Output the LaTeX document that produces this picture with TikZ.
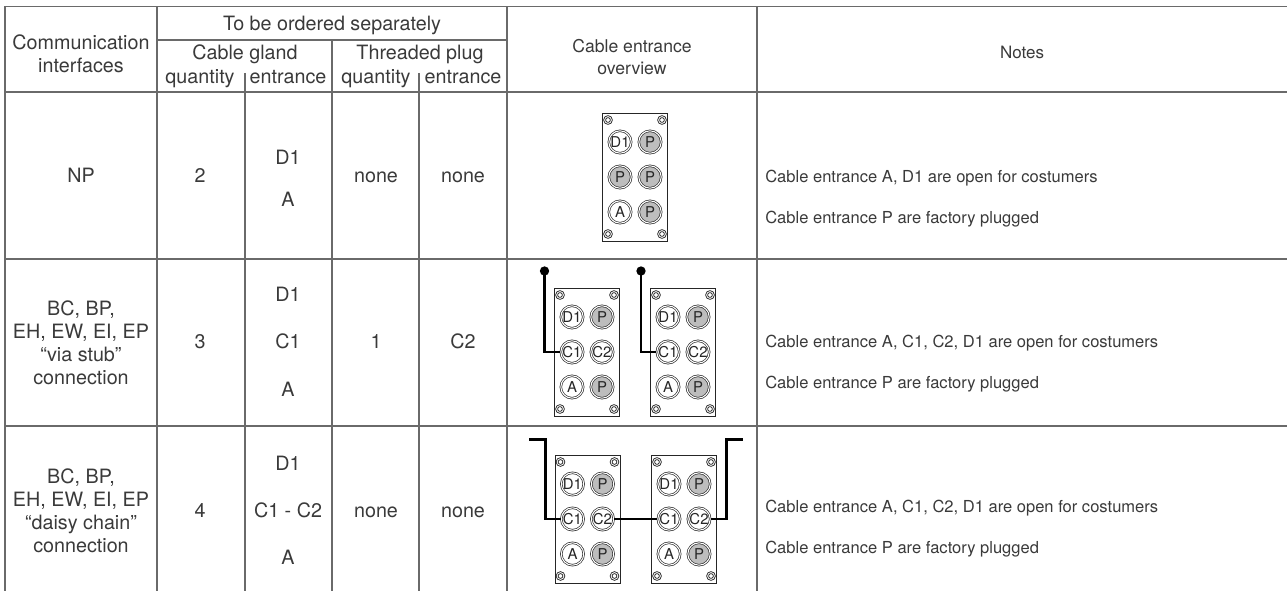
\documentclass[tikz,border=0pt]{standalone}
\usepackage{fontspec}
\setmainfont{TeX Gyre Heros}
\definecolor{txt}{HTML}{3A3A3A}
\definecolor{gridc}{HTML}{6A6A6A}
\definecolor{ink}{HTML}{262626}
\definecolor{plug}{HTML}{BDBDBD}
\newcommand\glandunit[7]{%
  \begin{scope}[shift={(#2,#3)}]
    \node[gbox] (#1) at (0,0) {};
    \foreach \sx/\sy in {-27/-57, 27/-57, -27/57, 27/57}{
      \draw[screw] (\sx,\sy) circle[radius=3.3pt];
      \draw[screw] (\sx,\sy) circle[radius=1.8pt];}
    \node[gland,glandopen] (#1a) at (-15,-35) {D1};
    \node[gland,glandplug] (#1b) at (15,-35) {P};
    \node[gland,#4] (#1c) at (-15,0) {#5};
    \node[gland,#6] (#1d) at (15,0) {#7};
    \node[gland,glandopen] (#1e) at (-15,35) {A};
    \node[gland,glandplug] (#1f) at (15,35) {P};
  \end{scope}}
\begin{document}
\begin{tikzpicture}[x=0.75pt,y=-0.75pt,
  gridline/.style={draw=gridc, line width=0.9pt},
  cell/.style={text=txt, font=\fontsize{14.8}{17.25}\selectfont, inner sep=0, align=center},
  cellb/.style={cell, anchor=base},
  notec/.style={text=txt, font=\fontsize{12.4}{15}\selectfont, inner sep=0, anchor=base west},
  hsmall/.style={text=txt, font=\fontsize{13.2}{16.5}\selectfont, inner sep=0, align=center},
  gbox/.style={rectangle, draw=ink, line width=0.65pt, fill=white, minimum width=48.75pt, minimum height=96pt, inner sep=0},
  screw/.style={draw=ink, line width=0.55pt},
  gland/.style={circle, draw=ink, line width=0.5pt, double=white, double distance=0.8pt, minimum size=16.8pt, inner sep=0, text=ink, font=\fontsize{11.2}{12}\selectfont},
  glandopen/.style={fill=white},
  glandplug/.style={fill=plug},
  wire/.style={draw=black, line width=1.6pt},
  dotn/.style={circle, fill=black, minimum size=7pt, inner sep=0}]
\useasboundingbox (0,0) rectangle (1287,591);
% table grid
\draw[gridline] (5,6.5) -- (1287,6.5);
\draw[gridline] (5,6.5) -- (5,591);
\draw[gridline] (157,6.5) -- (157,591);
\draw[gridline] (157,40) -- (507,40);
\draw[gridline] (332,40) -- (332,591);
\draw[gridline] (507,6.5) -- (507,591);
\draw[gridline] (757,6.5) -- (757,591);
\draw[gridline] (245,73) -- (245,591);
\draw[gridline] (419,73) -- (419,591);
\draw[gridline] (5,92) -- (1287,92);
\draw[gridline] (5,259) -- (1287,259);
\draw[gridline] (5,426) -- (1287,426);
% header
\node[cell] (hcomm) at (81,53.5) {Communication\\interfaces};
\node[cellb] (hord) at (332,31) {To be ordered separately};
\node[cellb] (hgl) at (245,59.5) {Cable gland};
\node[cellb] (hth) at (420,59.5) {Threaded plug};
\node[cellb] (hq1) at (200,83.5) {quantity};
\node[cellb] (he1) at (288,83.5) {entrance};
\node[cellb] (hq2) at (376,83.5) {quantity};
\node[cellb] (he2) at (463,83.5) {entrance};
\node[hsmall] (hov) at (632,57) {Cable entrance\\overview};
\node[cellb, font=\fontsize{12.75}{15}\selectfont] (hnotes) at (1022,59) {Notes};
% row 1
\node[cellb] (r1a) at (81,183) {NP};
\node[cellb] (r1b) at (200,183) {2};
\node[cellb] (r1c1) at (288,165) {D1};
\node[cellb] (r1c2) at (288,207) {A};
\node[cellb] (r1d) at (376,183) {none};
\node[cellb] (r1e) at (463,183) {none};
\node[notec] (n1a) at (765,183) {Cable entrance A, D1 are open for costumers};
\node[notec] (n1b) at (765,224) {Cable entrance P are factory plugged};
% row 2
\node[cell] (r2a) at (81,342.5) {BC, BP,\\EH, EW, EI, EP\\“via stub”\\connection};
\node[cellb] (r2b) at (200,349) {3};
\node[cellb] (r2c1) at (288,301.5) {D1};
\node[cellb] (r2c2) at (288,349) {C1};
\node[cellb] (r2c3) at (288,396.5) {A};
\node[cellb] (r2d) at (376,349) {1};
\node[cellb] (r2e) at (463,349) {C2};
\node[notec] (n2a) at (765,347) {Cable entrance A, C1, C2, D1 are open for costumers};
\node[notec] (n2b) at (765,388) {Cable entrance P are factory plugged};
% row 3
\node[cell] (r3a) at (81,511) {BC, BP,\\EH, EW, EI, EP\\“daisy chain”\\connection};
\node[cellb] (r3b) at (200,517.5) {4};
\node[cellb] (r3c1) at (288,470.5) {D1};
\node[cellb] (r3c2) at (288,517.5) {C1 - C2};
\node[cellb] (r3c3) at (288,564.5) {A};
\node[cellb] (r3d) at (376,517.5) {none};
\node[cellb] (r3e) at (463,517.5) {none};
\node[notec] (n3a) at (765,512) {Cable entrance A, C1, C2, D1 are open for costumers};
\node[notec] (n3b) at (765,553) {Cable entrance P are factory plugged};
% overview drawings
\glandunit{ua}{635}{177}{glandplug}{P}{glandplug}{P}
\glandunit{ub}{587}{352}{glandopen}{C1}{glandopen}{C2}
\glandunit{uc}{683}{352}{glandopen}{C1}{glandopen}{C2}
\glandunit{ud}{587.5}{519}{glandopen}{C1}{glandopen}{C2}
\glandunit{ue}{684}{519}{glandopen}{C1}{glandopen}{C2}
% via stub wires
\node[dotn] (dsb) at (544.5,271) {};
\node[dotn] (dsc) at (641,271) {};
\draw[wire] (dsb.center) |- (ubc.west);
\draw[wire] (dsc.center) |- (ucc.west);
% daisy chain wires
\coordinate (wds) at (529,439.5);
\coordinate (wdk) at (545.5,439.5);
\coordinate (wdm) at (726.5,439.5);
\coordinate (wde) at (743,439.5);
\draw[wire] (wds) -- (wdk) |- (udc.west);
\draw[wire] (udd.east) -- (uec.west);
\draw[wire] (ued.east) -| (wdm) -- (wde);
\end{tikzpicture}
\end{document}
